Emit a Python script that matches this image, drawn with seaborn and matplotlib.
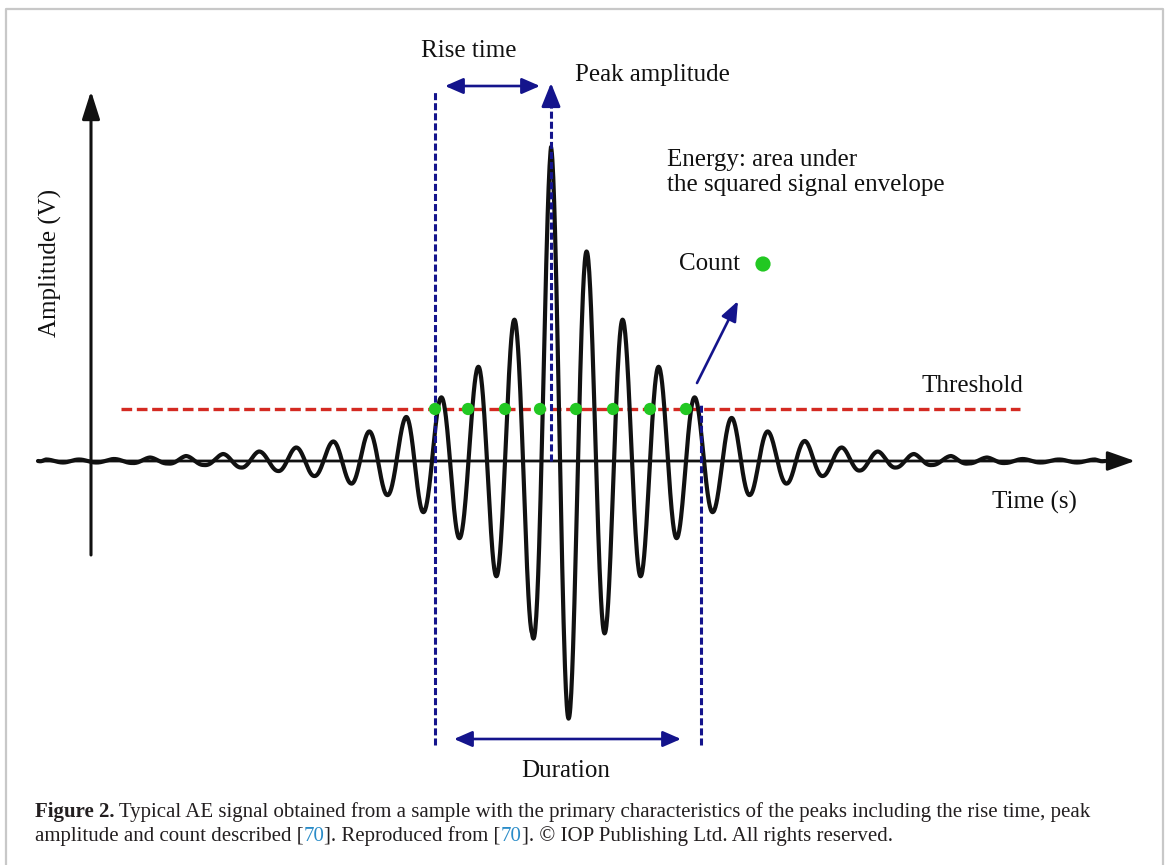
import numpy as np
import matplotlib
matplotlib.use("Agg")
import matplotlib.pyplot as plt
import seaborn as sns

# Burst extrema: time = px right of the amplitude axis,
# amplitude = px above the baseline.
peak_time = [-53, -45, -28, -12, 5, 23, 41, 59, 77, 95, 113, 132, 150, 168, 187,
             205, 223, 242, 260, 278, 296, 315, 332, 350, 368, 387, 405, 423, 441,
             460, 478, 496, 514, 532, 550, 568, 586, 604, 622, 641, 659, 677, 696,
             714, 732, 751, 769, 787, 805, 823, 841, 860, 877, 896, 914, 932, 950,
             968, 986, 1004, 1014]
peak_amp = [0, 1.5, -1.5, 1.5, -1.5, 2, -2, 3.5, -2.5, 5, -4, 7, -6.5, 9.5, -10,
            13.5, -15, 19.5, -22.5, 29.5, -34, 44, -51, 63.5, -77, 94, -115, 141, -172,
            314, -257, 209, -172, 141, -115, 94, -77, 63.5, -51, 43, -34, 29.5, -22.5,
            20, -15, 13.5, -9.5, 9.5, -6.5, 7, -4, 5, -2.5, 3.5, -2, 2, -1.5,
            1.5, -1.5, 1.5, 0]

threshold = 52
count_time = [344, 377, 414, 449, 485, 522, 559, 595]   # threshold crossings
onset_time = 344
peak_t = 460
end_time = 610

BLACK = "#111111"
NAVY = "#14148c"
RED = "#d42a22"
GREEN = "#22c822"


def smooth_wave(t, a, n=40):
    # half-cycle between neighbouring extrema, zero crossing in the middle
    xs, ys = [], []
    for i in range(len(t) - 1):
        s = np.linspace(0, 1, n, endpoint=False)
        a0, a1 = a[i], a[i + 1]
        sgn = np.sign(a0) if a0 != 0 else -np.sign(a1)
        mag = abs(a0) * (1 - s) + abs(a1) * s
        xs.append(t[i] + (t[i + 1] - t[i]) * s)
        ys.append(sgn * mag * np.cos(np.pi * s))
    xs.append([t[-1]])
    ys.append([a[-1]])
    return np.concatenate(xs), np.concatenate(ys)


sns.set_theme(style="white")
plt.rcParams["font.family"] = ["Liberation Serif", "DejaVu Serif"]

fig = plt.figure(figsize=(11.7, 8.65), dpi=100)
ax = fig.add_axes([0, 0, 1, 1])
ax.set_xlim(-91, 1079)
ax.set_ylim(-404, 461)
ax.set_axis_off()

# outer frame
ax.plot([-85, -85, 1072, 1072], [-420, 452, 452, -420], color="#c8c8c8",
        lw=1.6, clip_on=False, zorder=0)

# axes with arrows
ax.annotate("", xy=(1044, 0), xytext=(-53, 0),
            arrowprops=dict(arrowstyle="-|>,head_length=0.85,head_width=0.3",
                            color=BLACK, lw=2.0, mutation_scale=20,
                            shrinkA=0, shrinkB=0), zorder=2)
ax.annotate("", xy=(0, 370), xytext=(0, -94),
            arrowprops=dict(arrowstyle="-|>,head_length=0.85,head_width=0.27",
                            color=BLACK, lw=2.2, mutation_scale=20,
                            shrinkA=0, shrinkB=0), zorder=2)

# threshold
ax.plot([30, 929], [threshold, threshold], color=RED, lw=2.4,
        dashes=(3.2, 1.4), zorder=1)

# signal
wx, wy = smooth_wave(peak_time, peak_amp)
sns.lineplot(x=wx, y=wy, ax=ax, color=BLACK, linewidth=3.0,
             estimator=None, sort=False, zorder=2)

# rise time / duration markers
ax.plot([onset_time, onset_time], [-284, 369], color=NAVY, lw=2.2,
        dashes=(2.3, 1.0), zorder=3)
ax.plot([end_time, end_time], [-284, 56], color=NAVY, lw=2.2,
        dashes=(2.3, 1.0), zorder=3)
ax.plot([peak_t, peak_t], [0, 362], color=NAVY, lw=2.2,
        dashes=(2.3, 1.0), zorder=3)
ax.annotate("", xy=(peak_t, 378), xytext=(peak_t, 360),
            arrowprops=dict(arrowstyle="-|>,head_length=0.72,head_width=0.29",
                            color=NAVY, lw=2.0, mutation_scale=20,
                            shrinkA=0, shrinkB=0), zorder=3)
ax.annotate("", xy=(449, 375), xytext=(354, 375),
            arrowprops=dict(arrowstyle="<|-|>,head_length=0.55,head_width=0.24",
                            color=NAVY, lw=1.9, mutation_scale=20,
                            shrinkA=0, shrinkB=0))
ax.annotate("", xy=(590, -278), xytext=(363, -278),
            arrowprops=dict(arrowstyle="<|-|>,head_length=0.55,head_width=0.24",
                            color=NAVY, lw=1.9, mutation_scale=20,
                            shrinkA=0, shrinkB=0))
ax.annotate("", xy=(647, 160), xytext=(606, 78),
            arrowprops=dict(arrowstyle="-|>,head_length=0.6,head_width=0.24",
                            color=NAVY, lw=1.9, mutation_scale=20,
                            shrinkA=0, shrinkB=0))

# counts
sns.scatterplot(x=count_time, y=[threshold] * len(count_time), ax=ax,
                color=GREEN, s=78, edgecolor="none", zorder=4)
sns.scatterplot(x=[672], y=[197], ax=ax, color=GREEN, s=120,
                edgecolor="none", zorder=4)

# labels
lab = dict(fontsize=18, color=BLACK)
ax.text(330, 404, "Rise time", va="baseline", ha="left", **lab)
ax.text(484, 380, "Peak amplitude", va="baseline", ha="left", **lab)
ax.text(576, 295, "Energy: area under", va="baseline", ha="left", **lab)
ax.text(576, 270, "the squared signal envelope", va="baseline", ha="left", **lab)
ax.text(588, 191, "Count", va="baseline", ha="left", **lab)
ax.text(831, 69, "Threshold", va="baseline", ha="left", **lab)
ax.text(901, -48, "Time (s)", va="baseline", ha="left", **lab)
ax.text(475, -316, "Duration", va="baseline", ha="center", **lab)
ax.text(-41, 198, "Amplitude (V)", rotation=90, va="center", ha="center", **lab)

# caption, pieced together so the reference numbers can be coloured
cap = dict(fontsize=15, color="#231f20")
LINK = "#2a8cc8"


def caption_line(pieces, x, y):
    txt, kw = pieces[0]
    prev = ax.text(x, y, txt, va="baseline", ha="left", **{**cap, **kw})
    for txt, kw in pieces[1:]:
        prev = ax.annotate(txt, xy=(1, 0), xycoords=prev, va="bottom",
                           ha="left", **{**cap, **kw})


caption_line([
    ("Figure 2.", dict(fontweight="bold")),
    (" Typical AE signal obtained from a sample with the primary characteristics "
     "of the peaks including the rise time, peak", {}),
], -56, -356)
caption_line([
    ("amplitude and count described [", {}),
    ("70", dict(color=LINK)),
    ("]. Reproduced from [", {}),
    ("70", dict(color=LINK)),
    ("]. \u00a9 IOP Publishing Ltd. All rights reserved.", {}),
], -56, -380)

fig.savefig("out.png", dpi=100)
